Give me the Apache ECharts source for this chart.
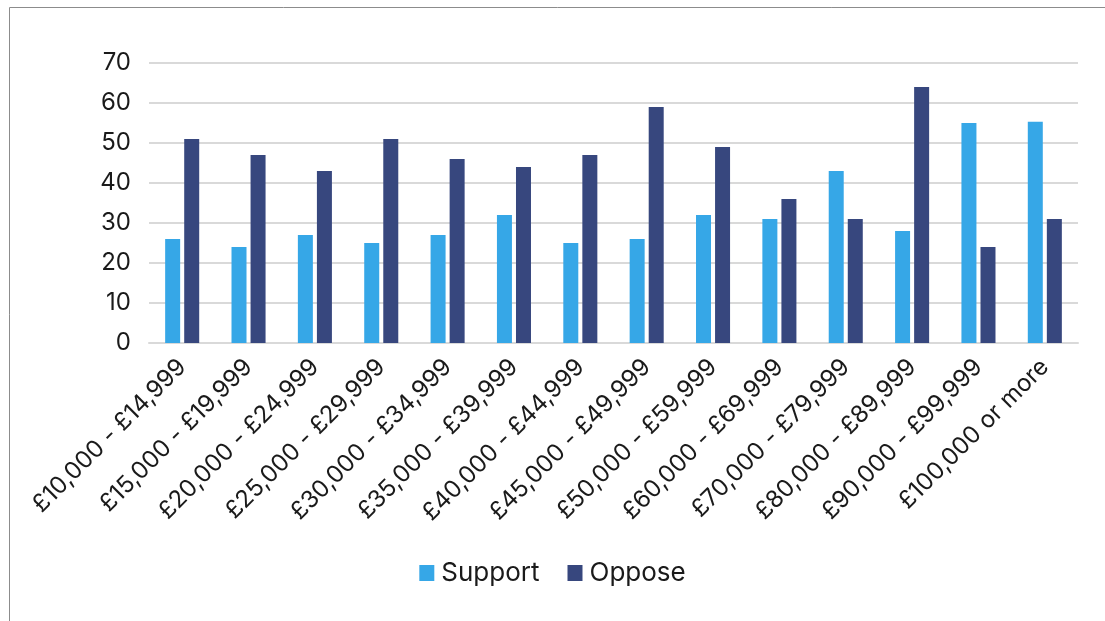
<!DOCTYPE html>
<html>
<head>
<meta charset="utf-8">
<script src="https://cdn.jsdelivr.net/npm/echarts@6/dist/echarts.min.js"></script>
<style>
  html, body { margin: 0; padding: 0; background: #fff; }
  #chart { width: 1105px; height: 621px; }
</style>
</head>
<body>
<div id="chart"></div>
<script>
// Income bands
const categories = [
  '£10,000 - £14,999', '£15,000 - £19,999', '£20,000 - £24,999', '£25,000 - £29,999',
  '£30,000 - £34,999', '£35,000 - £39,999', '£40,000 - £44,999', '£45,000 - £49,999',
  '£50,000 - £59,999', '£60,000 - £69,999', '£70,000 - £79,999', '£80,000 - £89,999',
  '£90,000 - £99,999', '£100,000 or more'
];
// Percentages per band
const support = [26, 24, 27, 25, 27, 32, 25, 26, 32, 31, 43, 28, 55, 55.3];
const oppose  = [51, 47, 43, 51, 46, 44, 47, 59, 49, 36, 31, 64, 24, 31];
const yTicks = [0, 10, 20, 30, 40, 50, 60, 70];

const font = 'Inter, "Noto Sans", sans-serif';
const chart = echarts.init(document.getElementById('chart'));
chart.setOption({
  animation: false,
  textStyle: { fontFamily: font },
  graphic: [{
    type: 'rect',
    shape: { x: 9.5, y: 7.5, width: 1200, height: 700 },
    style: { fill: 'none', stroke: '#8c8c8c', lineWidth: 1 },
    silent: true
  }],
  grid: { left: 149, right: 27, top: 63, bottom: 278 },
  legend: {
    bottom: 30,
    left: 'center',
    itemWidth: 15,
    itemHeight: 16,
    itemGap: 28,
    icon: 'rect',
    textStyle: { fontSize: 26, color: '#1a1a1a', fontFamily: font, padding: [0, 0, 0, 2] },
    data: ['Support', 'Oppose']
  },
  xAxis: {
    type: 'category',
    data: categories,
    axisLine: { show: true, lineStyle: { color: '#d9d9d9', width: 2 } },
    axisTick: { show: false },
    axisLabel: { rotate: 45, fontSize: 24, color: '#1a1a1a', margin: 20, interval: 0, fontFamily: font }
  },
  yAxis: {
    type: 'value',
    min: yTicks[0],
    max: yTicks[yTicks.length - 1],
    interval: 10,
    axisLine: { show: false },
    axisTick: { show: false },
    splitLine: { lineStyle: { color: '#d9d9d9', width: 2 } },
    axisLabel: { fontSize: 24, color: '#1a1a1a', margin: 18, fontFamily: font }
  },
  series: [
    { name: 'Support', type: 'bar', data: support, barWidth: 15, barGap: '27%', itemStyle: { color: '#36a7e7' } },
    { name: 'Oppose', type: 'bar', data: oppose, barWidth: 15, barGap: '27%', itemStyle: { color: '#37477e' } }
  ]
});
</script>
</body>
</html>
